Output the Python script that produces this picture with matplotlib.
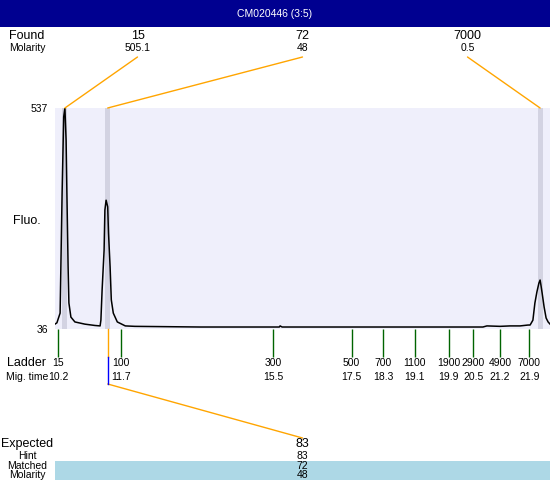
import matplotlib
matplotlib.use("Agg")
import matplotlib.pyplot as plt
import matplotlib.transforms as mtransforms
from matplotlib.patches import Rectangle, ConnectionPatch
from matplotlib.lines import Line2D

plt.rcParams['font.family'] = ['Liberation Sans', 'DejaVu Sans']

title = "CM020446 (3:5)"

# electropherogram trace: migration time vs fluorescence
trace_time = [10.04, 10.09, 10.17, 10.22, 10.26, 10.29, 10.32, 10.34, 10.37, 10.39,
              10.44, 10.54, 10.79, 11.04, 11.17, 11.19, 11.22, 11.27, 11.29, 11.32,
              11.36, 11.38, 11.42, 11.45, 11.50, 11.60, 11.80, 12.04, 13.67, 15.65,
              15.67, 15.72, 18.67, 20.74, 20.84, 21.17, 21.42, 21.67, 21.87, 21.92,
              21.99, 22.04, 22.09, 22.14, 22.17, 22.19, 22.22, 22.27, 22.32, 22.37,
              22.42]
trace_fluo = [47, 50, 72, 344, 517, 537, 464, 344, 177, 95,
              63, 52, 47, 44, 43, 56, 124, 215, 306, 328,
              313, 254, 177, 102, 72, 52, 43, 42, 40.5, 40.5,
              43, 40.5, 40.5, 40.5, 43, 42, 43, 43, 45, 45,
              56, 95, 120, 140, 147, 136, 118, 86, 61, 52,
              47]

# found peaks
peak_size = ["15", "72", "7000"]
peak_molarity = ["505.1", "48", "0.5"]
peak_time = [10.29, 11.36, 22.17]

# ladder
ladder_size = ["15", "100", "300", "500", "700", "1100", "1900", "2900", "4900", "7000"]
ladder_mig = ["10.2", "11.7", "15.5", "17.5", "18.3", "19.1", "19.9", "20.5", "21.2", "21.9"]
ladder_time = [10.12, 11.7, 15.5, 17.46, 18.25, 19.03, 19.89, 20.5, 21.17, 21.9]

# expected
expected_size = ["83"]
expected_hint = ["83"]
expected_matched = ["72"]
expected_molarity = ["48"]
matched_time = 11.36

y_min, y_max = 36, 537
W, H = 550, 480
big, small = 9, 7.5

fig = plt.figure(figsize=(W / 100, H / 100), dpi=100)
# pixel coordinates, origin top-left
px = mtransforms.Affine2D().scale(1 / W, -1 / H).translate(0, 1) + fig.transFigure

ax_left, ax_top, ax_bottom = 55, 108, 329
ax = fig.add_axes([ax_left / W, (H - ax_bottom) / H, (W - ax_left) / W, (ax_bottom - ax_top) / H])
ax.set_facecolor('#EFEFFB')
for s in ax.spines.values():
    s.set_visible(False)

for t in peak_time:
    ax.axvspan(t - 0.06, t + 0.06, color='#D3D3E2', lw=0, zorder=1)
ax.plot(trace_time, trace_fluo, color='black', lw=1.1, zorder=2)

ax.set_xlim(10.0425, 22.4175)
ax.set_ylim(y_min, y_max)
ax.set_yticks([y_min, y_max])
ax.set_yticklabels([str(y_min), str(y_max)])
ax.tick_params(axis='y', length=0, pad=5, labelsize=small)
ax.set_xticks(ladder_time)
ax.tick_params(axis='x', length=20, width=1, color='#006400', labelbottom=False)

blend = mtransforms.blended_transform_factory(ax.transData, px)


def put(x, y, s, size, tr=px, **kw):
    fig.text(x, y, s, transform=tr, ha='center', va='center', fontsize=size, **kw)


# title bar
fig.add_artist(Rectangle((0, 0), W, 27, transform=px, color='#000090', lw=0))
put(W / 2, 14, title, 7.5, color='white')

# found row
label_x = 27
put(label_x, 36, "Found", big)
put(label_x, 48, "Molarity", small)
col_w = (W - ax_left) / len(peak_size)
for i, (sz, mol, t) in enumerate(zip(peak_size, peak_molarity, peak_time)):
    cx = ax_left + (i + 0.5) * col_w
    put(cx, 36, sz, big)
    put(cx, 48, mol, small)
    con = ConnectionPatch(xyA=(t, y_max), coordsA=ax.transData, xyB=(cx, 57), coordsB=px,
                          color='orange', lw=1)
    fig.add_artist(con)

put(label_x, 221, "Fluo.", big)

# ladder rows
put(label_x, 363, "Ladder", big)
put(label_x, 377, "Mig. time", small)
for sz, mig, t in zip(ladder_size, ladder_mig, ladder_time):
    put(t, 363, sz, small, tr=blend)
    put(t, 377, mig, small, tr=blend)

# matched peak marker
fig.add_artist(Line2D([matched_time, matched_time], [329, 357], transform=blend, color='orange', lw=1))
fig.add_artist(Line2D([matched_time, matched_time], [357, 384], transform=blend, color='blue', lw=1))
exp_x = ax_left + (W - ax_left) / 2
fig.add_artist(ConnectionPatch(xyA=(matched_time, 384), coordsA=blend, xyB=(exp_x, 438), coordsB=px,
                               color='orange', lw=1))

# expected table
fig.add_artist(Rectangle((ax_left, 461), W - ax_left, 20, transform=px, color='#ADD8E6', lw=0))
put(label_x, 444, "Expected", big)
put(label_x, 456, "Hint", small)
put(label_x, 466, "Matched", small)
put(label_x, 475, "Molarity", small)
put(exp_x, 444, expected_size[0], big)
put(exp_x, 456, expected_hint[0], small)
put(exp_x, 466, expected_matched[0], small)
put(exp_x, 475, expected_molarity[0], small)

fig.savefig("out.png", dpi=100)
